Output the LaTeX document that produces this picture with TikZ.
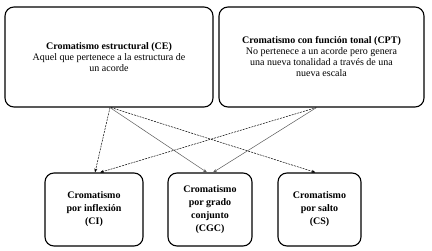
\documentclass[tikz,border=0pt]{standalone}
\usepackage{fontspec}
\setmainfont{Liberation Serif}
\usetikzlibrary{arrows.meta}
\tikzset{
  caja/.style={draw, line width=1.1pt, rounded corners=9pt, align=center,
    font=\fontsize{10}{11}\selectfont, inner sep=2pt},
  cajita/.style={caja, font=\fontsize{10}{13}\selectfont\bfseries},
  flecha/.style={-{Stealth[length=4pt,width=3pt]}, line width=0.5pt},
  punteada/.style={flecha, dashed, dash pattern=on 2pt off 1pt}
}
\begin{document}
\begin{tikzpicture}[x=1pt,y=-1pt]
\useasboundingbox (0,0) rectangle (432,251);
\node[caja, minimum width=208pt, minimum height=100pt] (CE) at (109,57)
{\textbf{Cromatismo estructural (CE)}\\Aquel que pertenece a la estructura de\\un acorde};
\node[caja, minimum width=205pt, minimum height=100pt] (CFT) at (321.5,57)
{\textbf{Cromatismo con función tonal (CPT)}\\No pertenece a un acorde pero genera\\una nueva tonalidad a través de una\\nueva escala};
\node[cajita, minimum width=98pt, minimum height=73pt] (CI) at (94,209.5)
{Cromatismo\\por inflexión\\(CI)};
\node[cajita, minimum width=84pt, minimum height=73pt] (CGC) at (210,209.5)
{Cromatismo\\por grado\\conjunto\\(CGC)};
\node[cajita, minimum width=83pt, minimum height=73pt] (CS) at (319.5,209.5)
{Cromatismo\\por salto\\(CS)};
% desde CE
\draw[punteada] ([xshift=1pt]CE.south) -- ([xshift=1pt]CI.north);
\draw[flecha, black!65] ([xshift=1pt]CE.south) -- ([xshift=-3pt]CGC.north);
\draw[punteada] ([xshift=2pt]CE.south) -- ([xshift=-4pt]CS.north);
% desde CFT
\draw[punteada] ([xshift=-5pt]CFT.south) -- ([xshift=6pt]CI.north);
\draw[flecha, black!65] ([xshift=-5pt]CFT.south) -- ([xshift=3pt]CGC.north);
\end{tikzpicture}
\end{document}
